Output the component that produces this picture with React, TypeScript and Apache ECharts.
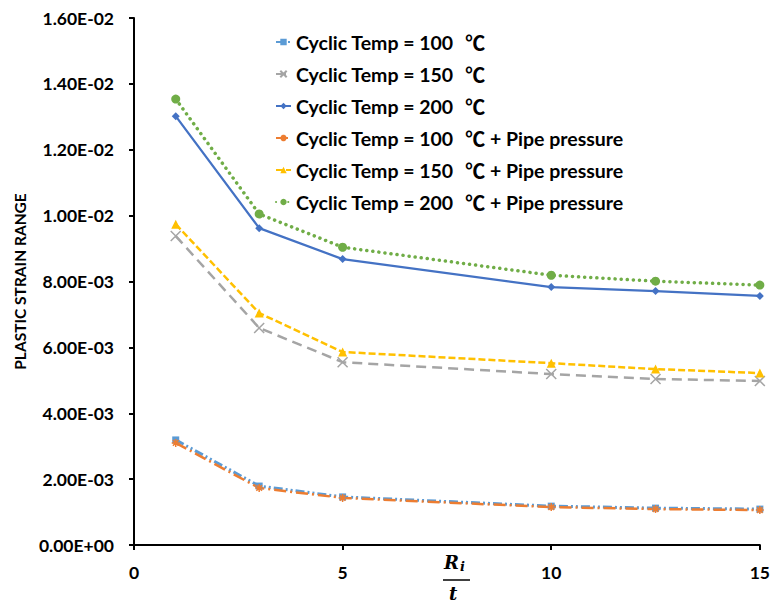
import React, { useEffect, useRef } from "react";
import * as echarts from "echarts";

const xValues = [1, 3, 5, 10, 12.5, 15];
const seriesNames = [
  "Cyclic Temp = 100  ℃",
  "Cyclic Temp = 150  ℃",
  "Cyclic Temp = 200  ℃",
  "Cyclic Temp = 100  ℃ + Pipe pressure",
  "Cyclic Temp = 150  ℃ + Pipe pressure",
  "Cyclic Temp = 200  ℃ + Pipe pressure",
];
const temp100 = [0.00319, 0.00179, 0.00146, 0.00118, 0.00112, 0.00109];
const temp150 = [0.00938, 0.00659, 0.00555, 0.00519, 0.00504, 0.00498];
const temp200 = [0.01302, 0.00962, 0.00868, 0.00783, 0.00771, 0.00756];
const temp100P = [0.0031, 0.00173, 0.00143, 0.00115, 0.00109, 0.00106];
const temp150P = [0.00974, 0.00704, 0.00586, 0.00552, 0.00534, 0.00522];
const temp200P = [0.01354, 0.01005, 0.00904, 0.00819, 0.00801, 0.00789];
const yTicks = { min: 0, max: 0.016, interval: 0.002 };
const xTicks = { min: 0, max: 15, interval: 5 };

function sci(v: number): string {
  if (Math.abs(v) < 1e-12) return "0.00E+00";
  const s = v.toExponential(2);
  const [m, e] = s.split("e");
  const n = parseInt(e, 10);
  return m + "E" + (n < 0 ? "-" : "+") + String(Math.abs(n)).padStart(2, "0");
}

const pair = (ys: number[]) => xValues.map((x, i) => [x, ys[i]]);

export default function App() {
  const ref = useRef<HTMLDivElement>(null);
  useEffect(() => {
    if (!ref.current) return;
    const chart = echarts.init(ref.current, undefined, { renderer: "svg" });
    const font = "Lato, 'Open Sans', sans-serif";
    const mk = (
      name: string,
      data: number[],
      color: string,
      lineType: any,
      width: number,
      symbol: string,
      size: number,
      hollow: boolean,
      cap: string = "butt"
    ) => ({
      type: "line",
      name,
      data: pair(data),
      symbol,
      symbolSize: size,
      showSymbol: true,
      lineStyle: { color, width, type: lineType, cap },
      itemStyle: hollow
        ? { color: "none", borderColor: color, borderWidth: 1.5 }
        : { color, borderColor: color, borderWidth: 0 },
      emphasis: { disabled: true },
    });
    chart.setOption({
      animation: false,
      backgroundColor: "#ffffff",
      grid: { left: 134, right: 11, top: 18, bottom: 58, containLabel: false },
      legend: {
        orient: "vertical",
        left: 270,
        top: 26,
        itemWidth: 15,
        itemHeight: 8,
        itemGap: 10,
        formatter: (name: string) => name.replace("℃", "{c|℃}"),
        textStyle: {
          fontFamily: font,
          fontWeight: "bold",
          fontSize: 19.5,
          color: "#000",
          lineHeight: 22,
          rich: {
            c: {
              fontFamily: "'Noto Sans CJK SC', sans-serif",
              fontWeight: "bold",
              fontSize: 20,
              color: "#000",
              lineHeight: 22,
              padding: [0, 0, 0, 2],
            },
          },
        },
        data: seriesNames,
      },
      xAxis: {
        type: "value",
        min: xTicks.min,
        max: xTicks.max,
        interval: xTicks.interval,
        axisLine: { lineStyle: { color: "#000", width: 2 } },
        axisTick: { show: true, length: 5, lineStyle: { color: "#000", width: 2 } },
        axisLabel: {
          color: "#000",
          fontFamily: font,
          fontWeight: "bold",
          fontSize: 17.5,
          margin: 18,
        },
        splitLine: { show: false },
      },
      yAxis: {
        type: "value",
        min: yTicks.min,
        max: yTicks.max,
        interval: yTicks.interval,
        name: "PLASTIC STRAIN RANGE",
        nameLocation: "middle",
        nameGap: 104,
        nameTextStyle: {
          color: "#000",
          fontFamily: font,
          fontWeight: "bold",
          fontSize: 15.5,
        },
        axisLine: { show: true, lineStyle: { color: "#000", width: 2 } },
        axisTick: { show: true, length: 5, lineStyle: { color: "#000", width: 2 } },
        axisLabel: {
          color: "#000",
          fontFamily: font,
          fontWeight: "bold",
          fontSize: 17.5,
          margin: 20,
          formatter: (v: number) => sci(v),
        },
        splitLine: { show: false },
      },
      graphic: [
        {
          type: "text",
          left: 444,
          top: 553,
          style: {
            text: "R",
            font: "italic bold 18px 'DejaVu Serif', serif",
            fill: "#000",
          },
        },
        {
          type: "text",
          left: 460,
          top: 560,
          style: {
            text: "i",
            font: "italic bold 13px 'DejaVu Serif', serif",
            fill: "#000",
          },
        },
        {
          type: "line",
          shape: { x1: 443, y1: 580, x2: 470, y2: 580 },
          style: { stroke: "#000", lineWidth: 1.5 },
        },
        {
          type: "text",
          left: 449,
          top: 584,
          style: {
            text: "t",
            font: "italic bold 18px 'DejaVu Serif', serif",
            fill: "#000",
          },
        },
      ],
      series: [
        mk(seriesNames[0], temp100, "#5B9BD5", [9, 3, 2, 3, 2, 3], 3, "rect", 7, false),
        mk(seriesNames[1], temp150, "#A5A5A5", [10, 6], 2.5, "path://M0,0L10,10M10,0L0,10", 10, true),
        mk(seriesNames[2], temp200, "#4472C4", "solid", 2.25, "diamond", 8, false),
        mk(seriesNames[3], temp100P, "#ED7D31", [12, 4, 2, 4], 2.5, "path://M5,0L5,10M0,5L10,5M1.5,1.5L8.5,8.5M8.5,1.5L1.5,8.5", 8, true),
        mk(seriesNames[4], temp150P, "#FFC000", [7, 3], 2.5, "triangle", 9, false),
        mk(seriesNames[5], temp200P, "#70AD47", [0.1, 6], 3.5, "circle", 9, false, "round"),
      ],
    });
    return () => chart.dispose();
  }, []);
  return (
    <div
      ref={ref}
      style={{ position: "absolute", left: 0, top: 0, width: 773, height: 603 }}
    />
  );
}
